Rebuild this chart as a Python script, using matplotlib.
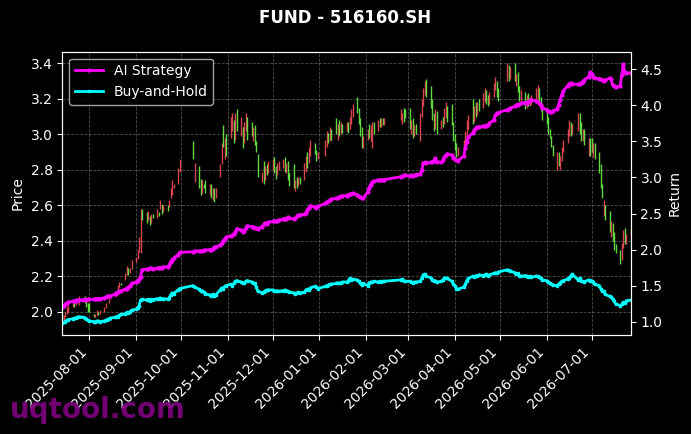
import matplotlib
matplotlib.use("Agg")
import matplotlib.pyplot as plt
import matplotlib.dates as mdates
import numpy as np
import pandas as pd

# exchange holidays (no candles on these weekdays)
holidays = ["2025-10-01", "2025-10-02", "2025-10-03", "2025-10-06", "2025-10-07",
            "2025-10-08", "2026-01-01", "2026-01-02", "2026-02-16", "2026-02-17",
            "2026-02-18", "2026-02-19", "2026-02-20", "2026-02-23", "2026-04-06",
            "2026-05-01", "2026-05-04", "2026-05-05", "2026-06-19"]

# daily open / close, one line per month (Jul 2025 .. Jul 2026)
opens = [
    1.99, 1.95, 1.97, 1.99, 2.00, 2.03, 2.05, 2.04, 2.07, 2.04, 2.08, 2.09, 2.07, 2.05,
    2.05, 1.99, 1.97, 1.98, 2.00, 1.99, 2.00, 2.02, 2.04, 2.05, 2.07, 2.09, 2.12, 2.11, 2.14, 2.16, 2.18, 2.21, 2.25, 2.22, 2.24,
    2.28, 2.30, 2.34, 2.33, 2.58, 2.56, 2.52, 2.54, 2.50, 2.55, 2.53, 2.56, 2.58, 2.61, 2.56, 2.60, 2.59, 2.64, 2.66, 2.70, 2.72, 2.79,
    2.96, 2.73, 2.82, 2.75, 2.67, 2.72, 2.74, 2.66, 2.72, 2.63, 2.70, 2.64, 2.76, 2.83, 3.05, 2.86, 3.00,
    2.98, 3.02, 3.08, 2.97, 3.14, 2.99, 3.04, 2.95, 3.02, 3.10, 3.07, 2.96, 3.05, 2.96, 2.89, 2.73, 2.85, 2.74, 2.83, 2.78,
    2.80, 2.87, 2.82, 2.77, 2.80, 2.81, 2.87, 2.78, 2.85, 2.78, 2.83, 2.68, 2.76, 2.71, 2.76, 2.74, 2.79, 2.90, 2.84, 2.88, 2.95, 2.91, 2.86,
    2.88, 2.93, 3.01, 2.96, 3.03, 3.09, 2.97, 3.08, 3.00, 3.06, 3.02, 3.07, 3.03, 3.06, 3.10, 3.21, 3.15, 3.09, 3.04, 2.92,
    2.97, 3.06, 2.96, 2.92, 3.07, 3.02, 3.09, 3.04, 3.09, 3.05, 3.08, 3.06, 3.15, 3.14,
    3.15, 3.00, 3.09, 2.99, 3.06, 2.96, 3.10, 3.16, 3.22, 3.31, 3.27, 3.20, 3.12, 3.03, 3.13, 3.03, 3.10, 3.06, 3.09, 3.16, 3.17, 3.07,
    3.00, 2.95, 2.88, 2.90, 2.94, 2.98, 3.03, 3.20, 3.07, 3.18, 3.11, 3.20, 3.15, 3.18, 3.25, 3.22, 3.17, 3.21, 3.25, 3.30, 3.26,
    3.30, 3.39, 3.31, 3.40, 3.27, 3.35, 3.27, 3.18, 3.24, 3.15, 3.23, 3.16, 3.17, 3.18, 3.20, 3.26, 3.21, 3.17,
    3.15, 3.10, 3.03, 2.99, 2.94, 2.80, 2.90, 2.80, 2.85, 2.90, 2.95, 2.99, 3.07, 3.00, 3.02, 3.12, 3.07, 2.96, 3.03, 2.88, 2.98,
    2.98, 2.87, 2.95, 2.90, 2.83, 2.72, 2.54, 2.60, 2.57, 2.42, 2.50, 2.45, 2.38, 2.35, 2.29, 2.36, 2.47, 2.38, 2.40,
]
closes = [
    1.95, 1.98, 2.00, 2.03, 2.04, 2.06, 2.03, 2.08, 2.05, 2.09, 2.06, 2.05, 2.03, 2.00,
    2.00, 1.97, 1.99, 2.01, 1.98, 2.01, 2.03, 2.05, 2.04, 2.07, 2.10, 2.12, 2.10, 2.15, 2.17, 2.15, 2.22, 2.26, 2.21, 2.25, 2.29,
    2.31, 2.35, 2.42, 2.58, 2.52, 2.50, 2.57, 2.49, 2.55, 2.53, 2.58, 2.54, 2.63, 2.55, 2.60, 2.57, 2.63, 2.70, 2.74, 2.72, 2.81, 2.86,
    2.86, 2.84, 2.70, 2.66, 2.74, 2.70, 2.67, 2.72, 2.64, 2.70, 2.62, 2.70, 2.83, 2.95, 2.93, 2.98, 2.88,
    3.10, 3.12, 2.95, 3.12, 3.02, 3.10, 2.92, 3.07, 3.12, 2.97, 2.99, 3.04, 2.94, 2.90, 2.76, 2.79, 2.72, 2.82, 2.77, 2.85,
    2.86, 2.78, 2.75, 2.84, 2.85, 2.86, 2.79, 2.84, 2.74, 2.71, 2.70, 2.74, 2.70, 2.76, 2.72, 2.84, 2.88, 2.81, 2.93, 2.97, 2.89, 2.85, 2.90,
    2.97, 3.02, 2.95, 3.04, 2.97, 3.00, 3.06, 2.99, 3.07, 3.01, 3.07, 3.01, 3.10, 3.14, 3.17, 3.12, 3.06, 2.99, 2.92, 2.99,
    3.03, 2.98, 3.05, 3.07, 3.00, 3.08, 3.04, 3.09, 3.05, 3.09, 3.14, 3.12, 3.07, 3.09,
    3.03, 3.08, 2.98, 3.05, 3.00, 3.12, 3.20, 3.26, 3.30, 3.21, 3.15, 3.08, 3.02, 3.14, 3.00, 3.08, 3.04, 3.15, 3.18, 3.07, 3.05, 2.96,
    2.91, 2.87, 2.93, 2.97, 3.02, 3.08, 3.11, 3.06, 3.16, 3.10, 3.18, 3.13, 3.23, 3.26, 3.17, 3.16, 3.24, 3.29, 3.32, 3.21, 3.19,
    3.40, 3.30, 3.38, 3.30, 3.34, 3.24, 3.19, 3.25, 3.14, 3.22, 3.16, 3.21, 3.22, 3.26, 3.28, 3.17, 3.13, 3.08,
    3.06, 3.00, 2.98, 2.93, 2.88, 2.90, 2.82, 2.88, 2.93, 2.97, 3.03, 3.08, 2.99, 3.06, 3.12, 3.00, 2.96, 3.03, 2.94, 2.98, 2.88,
    2.90, 2.95, 2.86, 2.78, 2.70, 2.64, 2.63, 2.52, 2.45, 2.51, 2.40, 2.35, 2.33, 2.27, 2.39, 2.46, 2.38, 2.44, 2.47,
]

# cumulative return curves
ai_return = [
    1.21, 1.22, 1.24, 1.26, 1.27, 1.28, 1.29, 1.29, 1.30, 1.30, 1.30, 1.31, 1.30, 1.31,
    1.31, 1.31, 1.31, 1.32, 1.32, 1.32, 1.33, 1.34, 1.35, 1.35, 1.36, 1.38, 1.39, 1.41, 1.42, 1.43, 1.45, 1.46, 1.48, 1.50, 1.53,
    1.55, 1.57, 1.59, 1.62, 1.72, 1.73, 1.73, 1.74, 1.74, 1.73, 1.74, 1.75, 1.75, 1.75, 1.76, 1.76, 1.78, 1.83, 1.86, 1.88, 1.93, 1.96,
    1.97, 1.98, 1.98, 1.98, 1.98, 1.99, 1.99, 2.00, 2.00, 2.01, 2.03, 2.04, 2.06, 2.09, 2.12, 2.15, 2.17,
    2.19, 2.20, 2.22, 2.24, 2.29, 2.27, 2.25, 2.26, 2.30, 2.33, 2.32, 2.31, 2.30, 2.30, 2.29, 2.32, 2.35, 2.37, 2.36, 2.38,
    2.39, 2.40, 2.39, 2.40, 2.41, 2.42, 2.43, 2.43, 2.45, 2.44, 2.42, 2.44, 2.46, 2.48, 2.48, 2.49, 2.51, 2.55, 2.58, 2.61, 2.59, 2.58, 2.60,
    2.64, 2.66, 2.67, 2.69, 2.70, 2.71, 2.72, 2.73, 2.74, 2.74, 2.75, 2.76, 2.77, 2.77, 2.78, 2.76, 2.74, 2.73, 2.72, 2.71,
    2.80, 2.86, 2.90, 2.94, 2.95, 2.96, 2.97, 2.96, 2.97, 2.97, 3.01, 3.02, 3.03, 3.03,
    3.02, 3.03, 3.02, 3.03, 3.04, 3.05, 3.10, 3.20, 3.21, 3.20, 3.21, 3.22, 3.23, 3.27, 3.22, 3.21, 3.24, 3.28, 3.31, 3.33, 3.31, 3.27,
    3.26, 3.24, 3.23, 3.30, 3.41, 3.49, 3.56, 3.62, 3.66, 3.69, 3.70, 3.70, 3.71, 3.72, 3.71, 3.73, 3.75, 3.80, 3.87, 3.89, 3.90,
    3.94, 3.95, 3.96, 3.99, 4.01, 4.01, 4.02, 4.03, 4.04, 4.04, 4.05, 4.07, 4.08, 4.06, 4.05, 4.03, 4.00, 3.97,
    3.94, 3.92, 3.91, 3.91, 3.92, 3.95, 4.01, 4.08, 4.14, 4.20, 4.27, 4.30, 4.31, 4.30, 4.29, 4.30, 4.31, 4.33, 4.35, 4.40, 4.46,
    4.44, 4.40, 4.38, 4.37, 4.36, 4.35, 4.34, 4.35, 4.38, 4.36, 4.28, 4.27, 4.26, 4.27, 4.42, 4.57, 4.47, 4.45, 4.45,
]
bh_return = [
    0.98, 0.99, 1.00, 1.02, 1.03, 1.04, 1.05, 1.05, 1.06, 1.07, 1.06, 1.05, 1.04, 1.02,
    1.01, 1.00, 1.00, 1.01, 1.01, 1.00, 1.01, 1.02, 1.03, 1.04, 1.05, 1.06, 1.07, 1.07, 1.09, 1.10, 1.11, 1.13, 1.12, 1.14, 1.16,
    1.17, 1.19, 1.22, 1.30, 1.31, 1.30, 1.31, 1.29, 1.31, 1.30, 1.32, 1.31, 1.33, 1.31, 1.32, 1.31, 1.33, 1.37, 1.40, 1.39, 1.44, 1.46,
    1.50, 1.48, 1.45, 1.42, 1.43, 1.41, 1.39, 1.37, 1.36, 1.38, 1.36, 1.37, 1.44, 1.47, 1.46, 1.49, 1.50,
    1.52, 1.49, 1.53, 1.56, 1.57, 1.55, 1.53, 1.54, 1.56, 1.57, 1.55, 1.54, 1.53, 1.48, 1.42, 1.40, 1.41, 1.43, 1.44, 1.44,
    1.44, 1.43, 1.42, 1.43, 1.42, 1.43, 1.44, 1.43, 1.42, 1.41, 1.40, 1.39, 1.40, 1.41, 1.40, 1.41, 1.44, 1.45, 1.44, 1.47, 1.49, 1.48, 1.46,
    1.49, 1.50, 1.51, 1.52, 1.52, 1.53, 1.54, 1.53, 1.54, 1.55, 1.55, 1.56, 1.60, 1.58, 1.59, 1.58, 1.56, 1.54, 1.51, 1.53,
    1.50, 1.54, 1.55, 1.55, 1.56, 1.55, 1.56, 1.55, 1.56, 1.56, 1.58, 1.59, 1.57, 1.56,
    1.56, 1.55, 1.54, 1.55, 1.55, 1.56, 1.60, 1.65, 1.66, 1.63, 1.61, 1.58, 1.56, 1.57, 1.55, 1.56, 1.58, 1.60, 1.61, 1.60, 1.56, 1.52,
    1.50, 1.46, 1.45, 1.48, 1.52, 1.57, 1.60, 1.63, 1.62, 1.64, 1.63, 1.65, 1.64, 1.65, 1.66, 1.64, 1.65, 1.67, 1.68, 1.67, 1.69,
    1.72, 1.71, 1.70, 1.68, 1.66, 1.67, 1.64, 1.63, 1.64, 1.63, 1.62, 1.63, 1.62, 1.63, 1.63, 1.62, 1.60, 1.58,
    1.57, 1.55, 1.53, 1.52, 1.51, 1.50, 1.52, 1.54, 1.56, 1.57, 1.59, 1.61, 1.63, 1.66, 1.58, 1.60, 1.57, 1.56, 1.55, 1.58, 1.57,
    1.57, 1.55, 1.52, 1.50, 1.46, 1.43, 1.42, 1.38, 1.35, 1.34, 1.31, 1.28, 1.25, 1.22, 1.24, 1.27, 1.26, 1.29, 1.30,
]

dates = pd.bdate_range("2025-07-14", "2026-07-27")
dates = dates[~dates.isin(pd.to_datetime(holidays))]

o = np.array(opens)
c = np.array(closes)
up = c >= o
candle_colors = np.where(up, "#ee4c58", "#6cf04a")

plt.style.use("dark_background")
fig = plt.figure(figsize=(6.91, 4.34), dpi=100)
ax = fig.add_axes([0.0902, 0.2281, 0.8226, 0.6528])

# candles drawn as thin bars (price, left axis)
ax.vlines(dates, np.minimum(o, c), np.maximum(o, c), colors=candle_colors,
          linewidth=1.0, alpha=0.9)
ax.set_ylim(1.87, 3.465)
ax.set_yticks(np.arange(2.0, 3.41, 0.2))
ax.set_ylabel("Price")
ax.set_xlim(dates[0], dates[-1])
ax.xaxis.set_major_locator(mdates.MonthLocator())
ax.xaxis.set_major_formatter(mdates.DateFormatter("%Y-%m-%d"))
plt.setp(ax.get_xticklabels(), rotation=45, ha="right")
ax.grid(True, linestyle="--", linewidth=0.6, alpha=0.3)

# return curves on the right axis
ax2 = ax.twinx()
ax2.plot(dates, ai_return, color="#ff00ff", linewidth=2, marker="o",
         markersize=2, label="AI Strategy")
ax2.plot(dates, bh_return, color="#00ffff", linewidth=2, marker="s",
         markersize=2, label="Buy-and-Hold")
ax2.set_ylim(0.815, 4.745)
ax2.set_ylabel("Return")
ax2.legend(loc="upper left")

fig.text(0.5, 0.958, "FUND - 516160.SH", ha="center", va="center",
         fontsize=12, fontweight="bold")
fig.text(0.014, 0.037, "uqtool.com", fontsize=20, fontweight="bold",
         color="purple", alpha=0.9)

fig.savefig("out.png", dpi=100, facecolor="black")
